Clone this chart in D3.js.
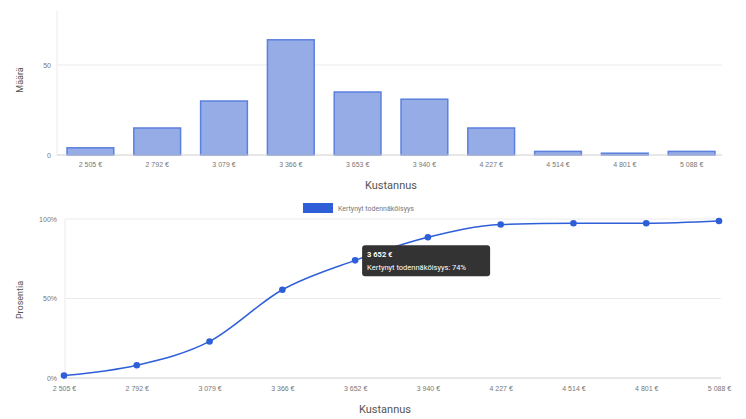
<!DOCTYPE html>
<html><head><meta charset="utf-8">
<script src="https://cdn.jsdelivr.net/npm/d3@7"></script>
<style>
body{margin:0;background:#fff;}
svg{display:block;font-family:Roboto, Arial, sans-serif;}
</style></head>
<body><svg id="c" width="746" height="419"></svg>
<script>
const histCategories = ["2 505 €","2 792 €","3 079 €","3 366 €","3 653 €","3 940 €","4 227 €","4 514 €","4 801 €","5 088 €"];
const histCounts = [4, 15, 30, 64, 35, 31, 15, 2, 1, 2];
const histTicks = [0, 50];

const cumCategories = ["2 505 €","2 792 €","3 079 €","3 366 €","3 652 €","3 940 €","4 227 €","4 514 €","4 801 €","5 088 €"];
const cumPercent = [1.5, 8, 23, 55.5, 74, 88.5, 96.5, 97.3, 97.3, 98.7];
const cumTicks = [0, 50, 100];

const seriesName = "Kertynyt todennäköisyys";
const tooltipIndex = 4;

const svg = d3.select("#c");
const gridCol = "#ebebeb", axisCol = "#cfcfcf", labCol = "#777", titleCol = "#555";
const blue = "#2f5fd8";

// ---------- Top histogram ----------
const x1 = d3.scaleBand().domain(histCategories).range([57, 725]).paddingInner(0.3).paddingOuter(0.15);
const y1 = d3.scaleLinear().domain([0, 80]).range([155, 11]);
const g1 = svg.append("g");
g1.append("line").attr("x1",57).attr("x2",57).attr("y1",y1(80)).attr("y2",y1(0)).attr("stroke",gridCol);
g1.selectAll(".gl").data(histTicks.filter(d=>d>0)).join("line")
  .attr("x1",57).attr("x2",722).attr("y1",d=>y1(d)).attr("y2",d=>y1(d)).attr("stroke",gridCol);
g1.selectAll(".bar").data(histCounts).join("rect")
  .attr("x",(d,i)=>x1(histCategories[i])).attr("width",x1.bandwidth())
  .attr("y",d=>y1(d)).attr("height",d=>y1(0)-y1(d))
  .attr("fill","#95ace7").attr("stroke","#5b80dd").attr("stroke-width",1.5);
g1.append("line").attr("x1",57).attr("x2",722).attr("y1",y1(0)).attr("y2",y1(0)).attr("stroke",axisCol);
const ya1 = d3.axisLeft(y1).tickValues(histTicks).tickSize(0).tickPadding(6);
g1.append("g").attr("transform","translate(57,0)").call(ya1)
  .call(g=>g.select(".domain").remove())
  .selectAll("text").attr("fill",labCol).attr("font-size",7);
const xa1 = d3.axisBottom(x1).tickSize(0).tickPadding(7);
g1.append("g").attr("transform",`translate(0,${y1(0)})`).call(xa1)
  .call(g=>g.select(".domain").remove())
  .selectAll("text").attr("fill",labCol).attr("font-size",7);
svg.append("text").attr("x",391).attr("y",189).attr("text-anchor","middle")
  .attr("font-size",11).attr("fill",titleCol).text("Kustannus");
svg.append("text").attr("transform","translate(23,80) rotate(-90)").attr("text-anchor","middle")
  .attr("font-size",9).attr("fill",titleCol).text("Määrä");

// ---------- Legend ----------
svg.append("rect").attr("x",303).attr("y",203).attr("width",30).attr("height",10).attr("fill",blue);
svg.append("text").attr("x",338).attr("y",211).attr("font-size",7).attr("fill",labCol).text(seriesName);

// ---------- Bottom cumulative ----------
const x2 = d3.scalePoint().domain(cumCategories).range([64, 719]);
const y2 = d3.scaleLinear().domain([0, 100]).range([378, 219]);
const g2 = svg.append("g");
g2.append("line").attr("x1",65).attr("x2",65).attr("y1",y2(100)).attr("y2",y2(0)).attr("stroke",gridCol);
g2.selectAll(".gl").data(cumTicks.filter(d=>d>0)).join("line")
  .attr("x1",65).attr("x2",721).attr("y1",d=>y2(d)).attr("y2",d=>y2(d)).attr("stroke",gridCol);
g2.append("line").attr("x1",65).attr("x2",721).attr("y1",y2(0)).attr("y2",y2(0)).attr("stroke",axisCol);
const ya2 = d3.axisLeft(y2).tickValues(cumTicks).tickFormat(d=>d+"%").tickSize(0).tickPadding(6);
g2.append("g").attr("transform","translate(63,0)").call(ya2)
  .call(g=>g.select(".domain").remove())
  .selectAll("text").attr("fill",labCol).attr("font-size",7);
const xa2 = d3.axisBottom(x2).tickSize(0).tickPadding(8);
g2.append("g").attr("transform",`translate(0,${y2(0)})`).call(xa2)
  .call(g=>g.select(".domain").remove())
  .selectAll("text").attr("fill",labCol).attr("font-size",7);
const line = d3.line().x((d,i)=>x2(cumCategories[i])).y(d=>y2(d)).curve(d3.curveMonotoneX);
g2.append("path").datum(cumPercent).attr("d",line).attr("fill","none").attr("stroke",blue).attr("stroke-width",1.5);
g2.selectAll(".pt").data(cumPercent).join("circle")
  .attr("cx",(d,i)=>x2(cumCategories[i])).attr("cy",d=>y2(d)).attr("r",3.3).attr("fill",blue);
svg.append("text").attr("x",385).attr("y",413).attr("text-anchor","middle")
  .attr("font-size",11).attr("fill",titleCol).text("Kustannus");
svg.append("text").attr("transform","translate(23,300) rotate(-90)").attr("text-anchor","middle")
  .attr("font-size",9).attr("fill",titleCol).text("Prosentia");

// ---------- Tooltip ----------
const tx = x2(cumCategories[tooltipIndex]) + 7, ty = y2(cumPercent[tooltipIndex]) - 15;
const tip = svg.append("g").attr("transform",`translate(${tx},${ty})`);
tip.append("rect").attr("width",128).attr("height",31).attr("rx",3).attr("fill","#333");
tip.append("text").attr("x",5).attr("y",12).attr("font-size",7.5).attr("font-weight","bold").attr("fill","#fff")
  .text(cumCategories[tooltipIndex]);
tip.append("text").attr("x",5).attr("y",25).attr("font-size",7.5).attr("fill","#fff")
  .text(seriesName + ": " + Math.round(cumPercent[tooltipIndex]) + "%");
</script></body></html>
